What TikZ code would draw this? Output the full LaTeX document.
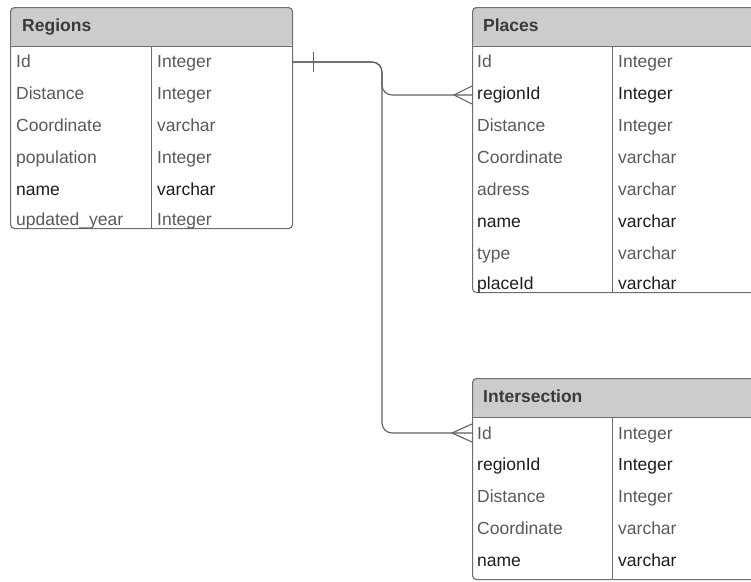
\documentclass[tikz,border=0pt]{standalone}
\usepackage{fontspec}
\setmainfont{Liberation Sans}
\definecolor{headgray}{HTML}{CCCCCC}
\definecolor{bordergray}{HTML}{6E6E6E}
\definecolor{txtgray}{HTML}{5A5A5A}
\definecolor{txtdark}{HTML}{1E1E1E}
\definecolor{headtxt}{HTML}{3A3A3A}
\definecolor{linegray}{HTML}{606060}
\begin{document}
\begin{tikzpicture}[x=1pt,y=-1pt,
  tablebox/.style={draw=bordergray, line width=1.1pt, fill=white, rounded corners=4pt,
    inner sep=0pt, anchor=north west,
    path picture={\fill[headgray] (path picture bounding box.north west) rectangle ([yshift=-39pt]path picture bounding box.north east);}},
  rule/.style={draw=bordergray, line width=1pt},
  field/.style={anchor=base west, inner sep=0pt, font=\fontsize{17.5}{20}\selectfont, text=txtgray},
  fielddark/.style={field, text=txtdark},
  headtext/.style={anchor=base west, inner sep=0pt, font=\fontsize{17.5}{20}\selectfont\bfseries, text=headtxt},
  conn/.style={draw=linegray, line width=1.1pt, rounded corners=10pt},
  foot/.style={draw=linegray, line width=1.1pt}
]
\useasboundingbox (0,0) rectangle (751,581);
\clip (0,0) rectangle (751,581);
\fill[white] (0,0) rectangle (751,581);

% Regions
\node[tablebox, minimum width=282pt, minimum height=221pt] (regions) at (10,7) {};
\draw[rule] (10,46) -- (292,46);
\draw[rule] (151,46) -- (151,228);
\node[headtext] (rhead) at (22,31) {Regions};
\foreach \n/\a/\b/\y/\s in {1/Id/Integer/67/field, 2/Distance/Integer/99/field, 3/Coordinate/varchar/131/field, 4/population/Integer/163/field, 5/name/varchar/195/fielddark, 6/updated\_year/Integer/225/field}{
  \node[\s] (ra\n) at (16,\y) {\a};
  \node[\s] (rb\n) at (157,\y) {\b};
}

% Places
\node[tablebox, minimum width=300pt, minimum height=285pt] (places) at (472,7) {};
\draw[rule] (472,46) -- (772,46);
\draw[rule] (612,46) -- (612,292);
\node[headtext] (phead) at (483,31) {Places};
\foreach \n/\a/\b/\y/\s in {1/Id/Integer/67/field, 2/regionId/Integer/99/fielddark, 3/Distance/Integer/131/field, 4/Coordinate/varchar/163/field, 5/adress/varchar/195/field, 6/name/varchar/227/fielddark, 7/type/varchar/259/field, 8/placeId/varchar/289/fielddark}{
  \node[\s] (pa\n) at (477,\y) {\a};
  \node[\s] (pb\n) at (618,\y) {\b};
}

% Intersection
\node[tablebox, minimum width=300pt, minimum height=201pt] (inter) at (472,378) {};
\draw[rule] (472,417) -- (772,417);
\draw[rule] (612,417) -- (612,579);
\node[headtext] (ihead) at (483,402) {Intersection};
\foreach \n/\a/\b/\y/\s in {1/Id/Integer/439/field, 2/regionId/Integer/470/fielddark, 3/Distance/Integer/502/field, 4/Coordinate/varchar/534/field, 5/name/varchar/566/fielddark}{
  \node[\s] (ia\n) at (477,\y) {\a};
  \node[\s] (ib\n) at (618,\y) {\b};
}

% connectors
\coordinate (rout) at (regions.east |- 0,62);
\coordinate (bend) at (382,62);
\coordinate (pin) at (places.west |- 0,95);
\coordinate (iin) at (inter.west |- 0,433);
\draw[conn] (rout) -- (bend) -- (bend |- pin) -- (pin);
\draw[conn] (rout) -- (bend) -- (bend |- iin) -- (iin);
% one bar
\draw[foot] ([xshift=20pt]rout) ++(0,-10) -- ++(0,20);
% crow's feet
\draw[foot] ([xshift=-18pt]pin) -- ([yshift=9pt]pin);
\draw[foot] ([xshift=-18pt]pin) -- ([yshift=-9pt]pin);
\draw[foot] ([xshift=-20pt]iin) -- ([yshift=9pt]iin);
\draw[foot] ([xshift=-20pt]iin) -- ([yshift=-9pt]iin);
\end{tikzpicture}
\end{document}
